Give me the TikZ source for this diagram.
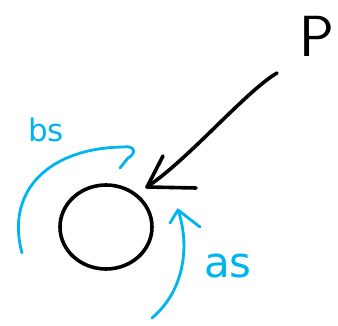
\documentclass[tikz,border=0pt]{standalone}
\usepackage{fontspec}
\newfontfamily\handfont{DejaVu Sans}
\usetikzlibrary{shapes.geometric}
\begin{document}
\begin{tikzpicture}[
  x=1pt, y=-1pt,
  pen/.style={black, line width=3.6pt, line cap=round, line join=round},
  bluepen/.style={skyblue, line width=2.8pt, line cap=round, line join=round},
  lbl/.style={skyblue, inner sep=0pt},
]
\definecolor{skyblue}{RGB}{0,180,240}
\useasboundingbox (0,0) rectangle (338,326);
% the ball
\node[pen, draw, ellipse, minimum width=92pt, minimum height=84pt, inner sep=0pt] (ball) at (106,227) {};
% the point P and the stroke aimed at the ball
\node[font=\sffamily\fontsize{58}{58}\selectfont, inner sep=0pt] (P) at (317,36) {P};
\coordinate (pfrom) at (277,73);
\coordinate (ptip) at (147,187);
\draw[pen] (pfrom) .. controls (245,92) and (190,158) .. (ptip);
\draw[pen] (163,156) -- (ptip) -- (196,188);
% bs: the curve over the ball, ending in a hook
\node[lbl, font=\handfont\fontsize{31}{31}\selectfont] (bslbl) at (46,130) {bs};
\coordinate (bsfrom) at (22,253);
\coordinate (bsto) at (123,147);
\draw[bluepen] (bsfrom) .. controls (5,190) and (50,148) .. (bsto)
  .. controls (136,145) and (136,154) .. (128,158) -- (120,168);
% as: the curve rising on the right
\node[lbl, font=\handfont\fontsize{42}{42}\selectfont] (aslbl) at (228,266) {as};
\coordinate (asfrom) at (152,318);
\coordinate (astip) at (178,210);
\draw[bluepen] (asfrom) .. controls (185,290) and (190,245) .. (astip);
\draw[bluepen] (170,223) -- (astip) -- (200,227);
\end{tikzpicture}
\end{document}
